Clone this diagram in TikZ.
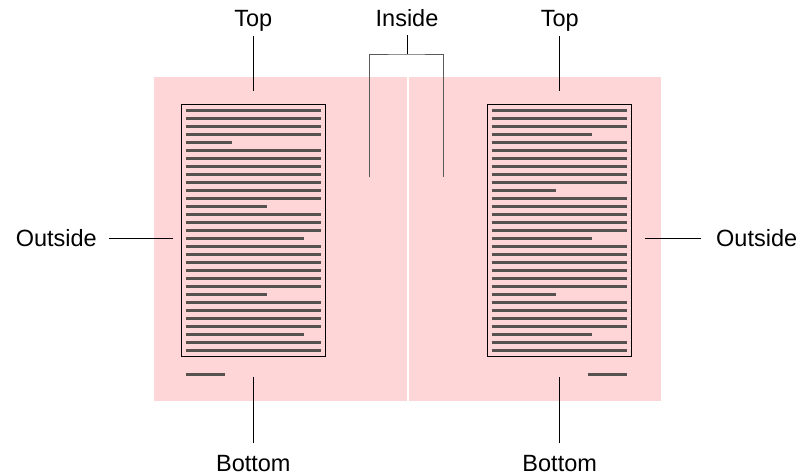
\documentclass[tikz,border=0pt]{standalone}
\usepackage{fontspec}
\setmainfont{Liberation Sans}
\begin{document}
\begin{tikzpicture}[x=1pt,y=-1pt,
  page/.style={fill=pagepink,draw=none},
  frame/.style={draw=black,line width=1.3pt},
  bar/.style={draw=bargray,line width=2.8pt},
  callout/.style={draw=black,line width=1pt},
  bracket/.style={draw=black!65,line width=1pt},
  lbl/.style={font=\fontsize{23.5}{28}\selectfont,inner sep=0pt}]
\definecolor{pagepink}{HTML}{FFD6D7}
\definecolor{bargray}{HTML}{56524F}
\useasboundingbox (0,0) rectangle (810,475);
% pages
\fill[page] (154,77) rectangle (406.5,401);
\fill[page] (408.5,77) rectangle (660.5,401);
% text frames
\draw[frame] (181.3,104.3) rectangle (325.7,356.3);
\draw[frame] (487.3,104.3) rectangle (631.7,356.3);
% left text lines
\foreach \e [count=\i from 0] in {321,321,321,321,232,321,321,321,321,321,321,321,267,321,321,321,304,321,321,321,321,321,321,267,321,321,321,321,304,321,321}
  \draw[bar] (186,{110.3+8*\i}) -- (\e,{110.3+8*\i});
% right text lines
\foreach \e [count=\i from 0] in {627,627,627,592,627,627,627,627,627,627,556,627,627,627,627,627,592,627,627,627,627,627,627,556,627,627,627,627,592,627,627}
  \draw[bar] (492,{110.3+8*\i}) -- (\e,{110.3+8*\i});
% folios
\draw[bar] (186,374.3) -- (225,374.3);
\draw[bar] (588,374.3) -- (627,374.3);
% labels
\node[lbl,anchor=base] (topL) at (253.3,26) {Top};
\node[lbl,anchor=base] (topR) at (559.7,26) {Top};
\node[lbl,anchor=base] (inside) at (407,26.5) {Inside};
\node[lbl,anchor=base east] (outL) at (97,246.5) {Outside};
\node[lbl,anchor=base west] (outR) at (716,246.5) {Outside};
\node[lbl,anchor=base] (botL) at (253.3,471) {Bottom};
\node[lbl,anchor=base] (botR) at (559.7,471) {Bottom};
% connector end points
\coordinate (topLs) at (253.3,36);
\coordinate (topLe) at (253.3,91);
\coordinate (topRs) at (559.7,36);
\coordinate (topRe) at (559.7,91);
\coordinate (botLs) at (253.3,443);
\coordinate (botLe) at (253.3,377);
\coordinate (botRs) at (559.7,443);
\coordinate (botRe) at (559.7,377);
\coordinate (outLs) at (109,238.3);
\coordinate (outLe) at (172.7,238.3);
\coordinate (outRs) at (701,238.3);
\coordinate (outRe) at (645,238.3);
\coordinate (insS) at (407,35);
\coordinate (insM) at (407,54);
\coordinate (insA) at (369.7,177.3);
\coordinate (insB) at (443.3,177.3);
% connectors
\draw[callout] (topLs) -- (topLe);
\draw[callout] (topRs) -- (topRe);
\draw[callout] (botLs) -- (botLe);
\draw[callout] (botRs) -- (botRe);
\draw[callout] (outLs) -- (outLe);
\draw[callout] (outRs) -- (outRe);
\draw[callout] (insS) -- (insM);
\draw[bracket] (insA) |- (insM) -| (insB);
\end{tikzpicture}
\end{document}
